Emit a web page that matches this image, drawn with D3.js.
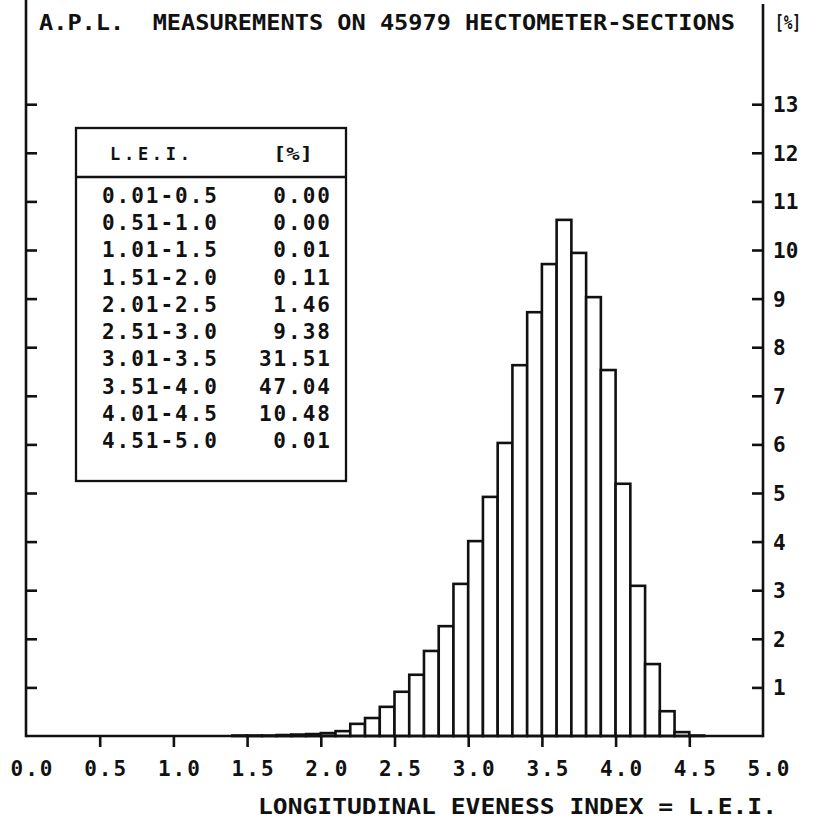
<!DOCTYPE html>
<html>
<head>
<meta charset="utf-8">
<script src="https://cdn.jsdelivr.net/npm/d3@7"></script>
<style>
  html, body { margin: 0; padding: 0; background: #fff; }
  svg { display: block; }
  text { font-family: "DejaVu Sans Mono", monospace; font-weight: bold; fill: #111; }
</style>
</head>
<body>
<svg id="chart" width="813" height="825"></svg>
<script>
// ---- data ----
const binStarts = [1.0, 1.1, 1.2, 1.3, 1.4, 1.5, 1.6, 1.7, 1.8, 1.9,
                   2.0, 2.1, 2.2, 2.3, 2.4, 2.5, 2.6, 2.7, 2.8, 2.9,
                   3.0, 3.1, 3.2, 3.3, 3.4, 3.5, 3.6, 3.7, 3.8, 3.9,
                   4.0, 4.1, 4.2, 4.3, 4.4, 4.5, 4.6, 4.7, 4.8, 4.9];
const percents  = [0.00, 0.00, 0.00, 0.00, 0.01, 0.01, 0.01, 0.02, 0.03, 0.04,
                   0.06, 0.10, 0.25, 0.37, 0.60, 0.91, 1.26, 1.75, 2.26, 3.13,
                   4.01, 4.92, 6.03, 7.63, 8.72, 9.71, 10.62, 9.94, 9.03, 7.53,
                   5.19, 3.09, 1.48, 0.51, 0.08, 0.01, 0.00, 0.00, 0.00, 0.00];
const binWidth = 0.1;

const tableRanges = ["0.01-0.5", "0.51-1.0", "1.01-1.5", "1.51-2.0", "2.01-2.5",
                     "2.51-3.0", "3.01-3.5", "3.51-4.0", "4.01-4.5", "4.51-5.0"];
const tablePercents = ["0.00", "0.00", "0.01", "0.11", "1.46",
                       "9.38", "31.51", "47.04", "10.48", "0.01"];
const tableHeader = ["L.E.I.", "[%]"];

const xTicks = [0.0, 0.5, 1.0, 1.5, 2.0, 2.5, 3.0, 3.5, 4.0, 4.5, 5.0];
const yTicks = [1, 2, 3, 4, 5, 6, 7, 8, 9, 10, 11, 12, 13];

const titleText = "A.P.L.  MEASUREMENTS ON 45979 HECTOMETER-SECTIONS";
const yUnitText = "[%]";
const xAxisTitle = "LONGITUDINAL EVENESS INDEX = L.E.I.";

// ---- layout ----
const svg = d3.select("#chart");
const left = 26, right = 763, baseY = 736;
const x = d3.scaleLinear().domain([0, 5]).range([left, right]);
const y = d3.scaleLinear().domain([0, 13]).range([baseY, baseY - 13 * 48.6]);
const LW = 2.6;
const INK = "#111";

// bars
svg.append("g").selectAll("rect")
  .data(binStarts.map((b, i) => ({ b, v: percents[i] })))
  .join("rect")
  .attr("x", d => x(d.b))
  .attr("width", d => x(d.b + binWidth) - x(d.b))
  .attr("y", d => y(d.v))
  .attr("height", d => baseY - y(d.v))
  .attr("fill", "#fff")
  .attr("stroke", INK)
  .attr("stroke-width", LW);

// frame lines
svg.append("line").attr("x1", left).attr("x2", left).attr("y1", 0).attr("y2", baseY + LW / 2)
  .attr("stroke", INK).attr("stroke-width", LW);
svg.append("line").attr("x1", right).attr("x2", right).attr("y1", 4).attr("y2", baseY + LW / 2)
  .attr("stroke", INK).attr("stroke-width", LW);
svg.append("line").attr("x1", left).attr("x2", right).attr("y1", baseY).attr("y2", baseY)
  .attr("stroke", INK).attr("stroke-width", LW);

// left axis (ticks only, pointing inward)
const leftAxis = svg.append("g").attr("transform", `translate(${left},0)`)
  .call(d3.axisRight(y).tickValues(yTicks).tickSize(11).tickSizeOuter(0).tickFormat(""));
leftAxis.select(".domain").remove();

// right axis (ticks inward, labels outside)
const rightAxis = svg.append("g").attr("transform", `translate(${right},0)`)
  .call(d3.axisRight(y).tickValues(yTicks).tickSize(-11).tickSizeOuter(0).tickPadding(10).tickFormat(d3.format("d")));
rightAxis.select(".domain").remove();
rightAxis.selectAll("text").attr("font-family", "DejaVu Sans Mono").attr("font-weight", "bold")
  .attr("font-size", 21).attr("fill", INK).attr("dy", "0.36em");

// x axis
const xAxis = svg.append("g").attr("transform", `translate(0,${baseY})`)
  .call(d3.axisBottom(x).tickValues(xTicks).tickSize(11).tickSizeOuter(0).tickPadding(14)
    .tickFormat(d => d.toFixed(1)));
xAxis.select(".domain").remove();
xAxis.selectAll("text").attr("font-family", "DejaVu Sans Mono").attr("font-weight", "bold")
  .attr("font-size", 21).attr("fill", INK).attr("dx", 5)
  .attr("textLength", 42).attr("lengthAdjust", "spacing");
xAxis.selectAll(".tick").filter(d => d === 0 || d === 5).select("line").remove();

[leftAxis, rightAxis, xAxis].forEach(g => g.selectAll("line").attr("stroke", INK).attr("stroke-width", LW));

// titles
svg.append("text").attr("x", 39).attr("y", 30).attr("font-size", 21)
  .attr("textLength", 696).attr("lengthAdjust", "spacingAndGlyphs")
  .style("white-space", "pre").text(titleText);
svg.append("text").attr("x", 775).attr("y", 29).attr("font-size", 19)
  .attr("textLength", 26).attr("lengthAdjust", "spacingAndGlyphs").text(yUnitText);
svg.append("text").attr("x", 258).attr("y", 814).attr("font-size", 21)
  .attr("textLength", 519).attr("lengthAdjust", "spacingAndGlyphs")
  .style("white-space", "pre").text(xAxisTitle);

// table
const tb = { x0: 76, x1: 346, y0: 128, y1: 481, yh: 177 };
const tg = svg.append("g");
tg.append("rect").attr("x", tb.x0).attr("y", tb.y0).attr("width", tb.x1 - tb.x0).attr("height", tb.y1 - tb.y0)
  .attr("fill", "#fff").attr("stroke", INK).attr("stroke-width", 2.3);
tg.append("line").attr("x1", tb.x0).attr("x2", tb.x1).attr("y1", tb.yh).attr("y2", tb.yh)
  .attr("stroke", INK).attr("stroke-width", 2.3);
tg.append("text").attr("x", 110).attr("y", 160).attr("font-size", 17)
  .attr("textLength", 80).attr("lengthAdjust", "spacing").text(tableHeader[0]);
tg.append("text").attr("x", 273).attr("y", 160).attr("font-size", 17)
  .attr("textLength", 40).attr("lengthAdjust", "spacingAndGlyphs").text(tableHeader[1]);
const rowY = d3.scaleLinear().domain([0, 9]).range([203, 448]);
tg.selectAll("text.rng").data(tableRanges).join("text").attr("class", "rng")
  .attr("x", 102).attr("y", (d, i) => rowY(i)).attr("font-size", 21)
  .attr("textLength", 115).attr("lengthAdjust", "spacing").text(d => d);
tg.selectAll("text.pct").data(tablePercents).join("text").attr("class", "pct")
  .attr("x", 330).attr("y", (d, i) => rowY(i)).attr("font-size", 21).attr("text-anchor", "end")
  .attr("textLength", d => d.length * 14.2).attr("lengthAdjust", "spacing").text(d => d);
</script>
</body>
</html>
